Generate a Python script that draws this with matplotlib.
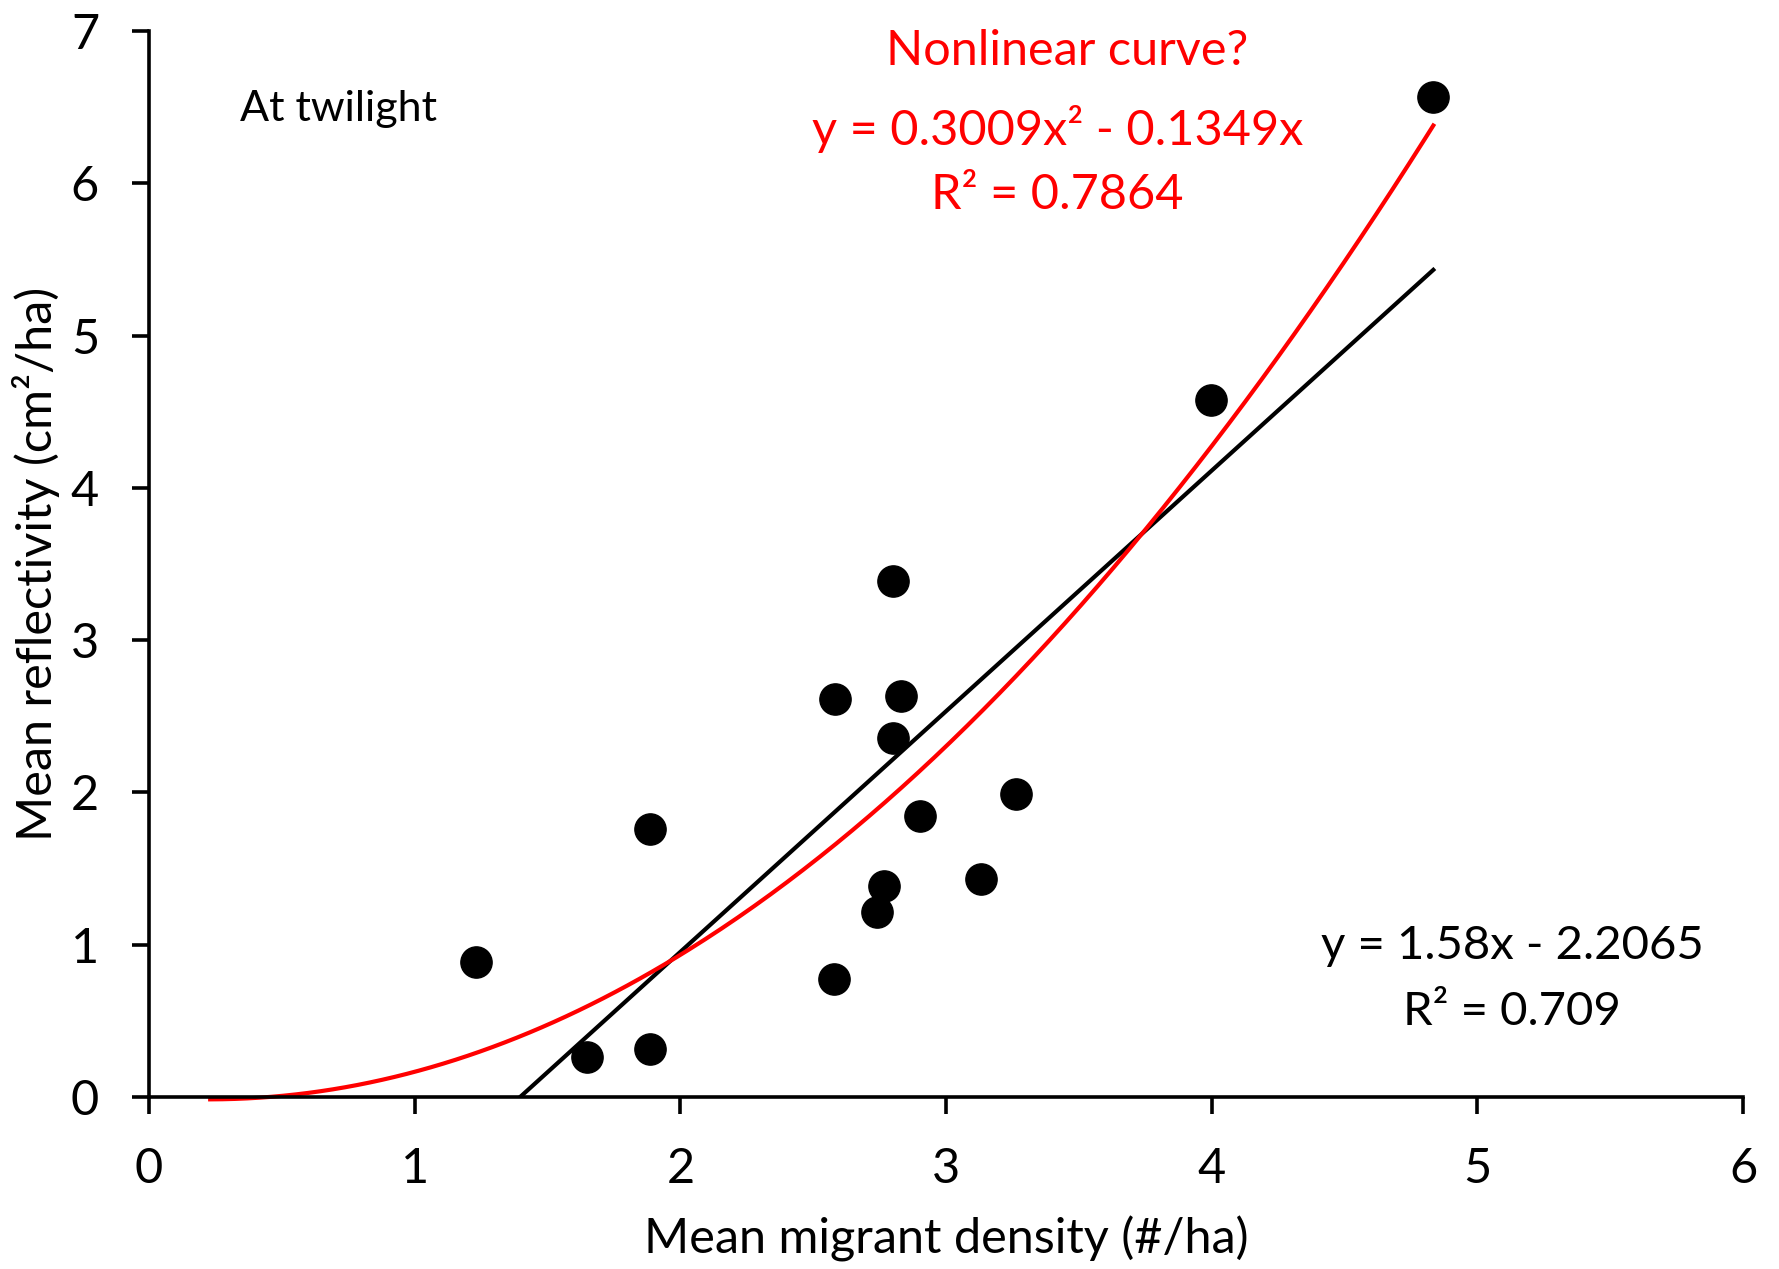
import numpy as np
import matplotlib.pyplot as plt

plt.rcParams['font.family'] = ['Lato', 'DejaVu Sans']

# migrant density vs reflectivity at twilight
density = [4.834, 3.997, 2.801, 2.583, 2.831, 2.801, 3.262, 2.903,
           1.887, 2.767, 3.130, 2.741, 2.579, 1.230, 1.648, 1.887]
reflect = [6.567, 4.579, 3.388, 2.613, 2.636, 2.360, 1.988, 1.847,
           1.757, 1.385, 1.430, 1.214, 0.774, 0.886, 0.261, 0.313]

# trendline coefficients
lin_slope, lin_icpt = 1.58, -2.2065
quad_a, quad_b = 0.3009, -0.1349
quad_start = 0.23

fig = plt.figure(figsize=(17.79, 12.69), dpi=100)
ax = fig.add_axes([0.0838, 0.1355, 0.896, 0.8401])

ax.plot(density, reflect, 'o', color='black', markersize=22.5, zorder=3)

xs = np.linspace(-lin_icpt / lin_slope, max(density), 100)
ax.plot(xs, lin_slope * xs + lin_icpt, color='black', lw=3.0, zorder=2)

xq = np.linspace(quad_start, max(density), 300)
ax.plot(xq, quad_a * xq**2 + quad_b * xq, color='red', lw=3.0, zorder=2,
        clip_on=False)

ax.set_xlim(0, 6)
ax.set_ylim(0, 7)
ax.set_xticks(range(0, 7))
ax.set_yticks(range(0, 8))
for s in ['top', 'right']:
    ax.spines[s].set_visible(False)
for s in ['left', 'bottom']:
    ax.spines[s].set_linewidth(2.6)
    ax.spines[s].set_zorder(4)
ax.tick_params(direction='out', length=12, width=2.6, labelsize=35, pad=24)

ax.set_xlabel('Mean migrant density (#/ha)', fontsize=35)
ax.set_ylabel('Mean reflectivity (cm²/ha)', fontsize=35)
ax.xaxis.label.set_va('center')
ax.yaxis.label.set_va('center')
ax.xaxis.set_label_coords(0.5, -0.133)
ax.yaxis.set_label_coords(-0.071, 0.5)

ax.text(0.343, 6.41, 'At twilight', fontsize=31, ha='left', va='baseline')
ax.text(3.455, 6.776, 'Nonlinear curve?', fontsize=35, color='red',
        ha='center', va='baseline')
ax.text(3.42, 6.25, 'y = 0.3009x² - 0.1349x', fontsize=35, color='red',
        ha='center', va='baseline')
ax.text(3.42, 5.83, 'R² = 0.7864', fontsize=35, color='red',
        ha='center', va='baseline')
ax.text(5.13, 0.906, 'y = 1.58x - 2.2065', fontsize=34,
        ha='center', va='baseline')
ax.text(5.13, 0.473, 'R² = 0.709', fontsize=34,
        ha='center', va='baseline')

fig.savefig('out.png', dpi=100)
